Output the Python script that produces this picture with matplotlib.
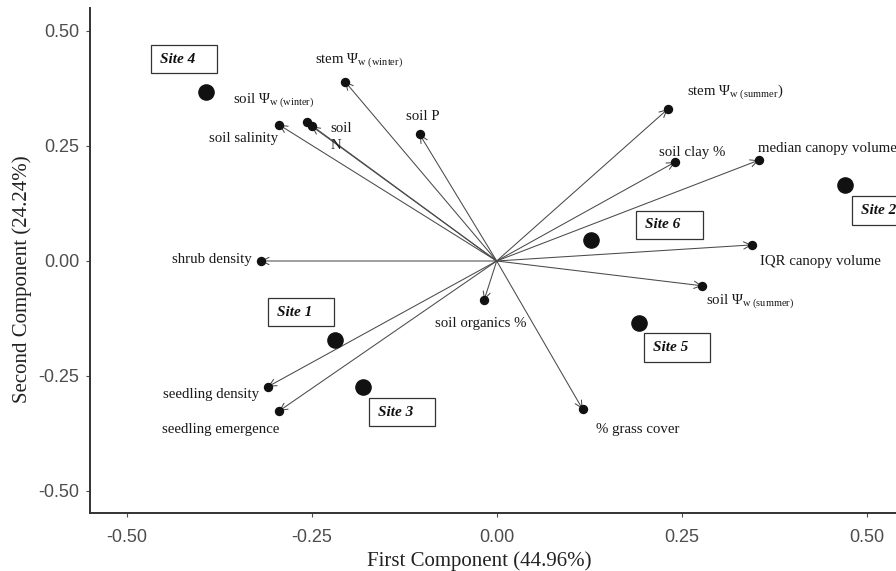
import numpy as np
import matplotlib
matplotlib.use("Agg")
import matplotlib.pyplot as plt
from matplotlib.patches import Rectangle

plt.rcParams['font.family'] = ['Liberation Serif', 'DejaVu Serif']
plt.rcParams['mathtext.fontset'] = 'custom'
plt.rcParams['mathtext.rm'] = 'Liberation Serif'
plt.rcParams['mathtext.it'] = 'Liberation Serif:italic'
plt.rcParams['mathtext.bf'] = 'Liberation Serif:bold'

# variable loadings (arrow tips)
var_labels = ['stem $\\Psi_{\\mathrm{w\\ (winter)}}$', 'soil $\\Psi_{\\mathrm{w\\ (winter)}}$',
              'soil salinity', 'soil\nN', 'soil P', 'shrub density',
              'stem $\\Psi_{\\mathrm{w\\ (summer}}$)', 'soil clay %', 'median canopy volume',
              'IQR canopy volume', 'soil $\\Psi_{\\mathrm{w\\ (summer)}}$', 'soil organics %',
              '% grass cover', 'seedling density', 'seedling emergence']
var_x = [-0.205, -0.257, -0.294, -0.250, -0.104, -0.319, 0.231, 0.241, 0.354,
         0.345, 0.278, -0.017, 0.116, -0.309, -0.294]
var_y = [0.390, 0.303, 0.296, 0.293, 0.275, 0.000, 0.330, 0.215, 0.219,
         0.035, -0.054, -0.085, -0.322, -0.273, -0.326]
# where each variable name is written
lab_x = [-0.2455, -0.356, -0.295, -0.225, -0.1226, -0.331, 0.257, 0.2197, 0.3535,
         0.356, 0.2824, -0.0219, 0.134, -0.3208, -0.3736]
lab_y = [0.432, 0.344, 0.259, 0.2435, 0.3065, -0.005, 0.362, 0.228, 0.2376,
         -0.0087, -0.0935, -0.143, -0.373, -0.2985, -0.375]
lab_ha = ['left', 'left', 'right', 'left', 'left', 'right', 'left', 'left', 'left',
          'left', 'left', 'center', 'left', 'right', 'center']

# site scores
site_names = ['Site 1', 'Site 2', 'Site 3', 'Site 4', 'Site 5', 'Site 6']
site_x = [-0.218, 0.471, -0.181, -0.393, 0.192, 0.128]
site_y = [-0.172, 0.165, -0.273, 0.368, -0.135, 0.046]
site_lab_x = [-0.2645, 0.525, -0.128, -0.4226, 0.2437, 0.2333]
site_lab_y = [-0.111, 0.1098, -0.329, 0.439, -0.188, 0.0787]

ticks = [-0.50, -0.25, 0.00, 0.25, 0.50]
tick_labels = ['-0.50', '-0.25', '0.00', '0.25', '0.50']

fig = plt.figure(figsize=(8.96, 5.71), dpi=100)
ax = fig.add_axes([90/896, 58.3/571, 806/896, 504.7/571])

# arrows from origin to each variable
for x, y in zip(var_x, var_y):
    ax.annotate('', xy=(x, y), xytext=(0, 0),
                arrowprops=dict(arrowstyle='->', color='#4a4a4a', lw=0.75,
                                shrinkA=0, shrinkB=0, mutation_scale=13))
ax.scatter(var_x, var_y, s=33, color='#111111', zorder=3)
for t, x, y, ha in zip(var_labels, lab_x, lab_y, lab_ha):
    ax.text(x, y, t, ha=ha, va='baseline', fontsize=10.7, color='#1a1a1a',
            linespacing=1.35, zorder=4)

ax.scatter(site_x, site_y, s=120, color='#111111', zorder=3)
bw, bh = 0.09, 0.061  # box size in data units
for name, cx, cy in zip(site_names, site_lab_x, site_lab_y):
    ax.add_patch(Rectangle((cx - bw/2, cy - bh/2), bw, bh, facecolor='white',
                           edgecolor='#333333', lw=0.9, clip_on=False, zorder=4))
    ax.text(cx - bw/2 + 0.0126, cy, name, ha='left', va='center', fontsize=11,
            fontweight='bold', fontstyle='italic', color='#111111', zorder=5)

ax.set_xlim(-0.5496, 0.5396)
ax.set_ylim(-0.5472, 0.55)
ax.set_xticks(ticks)
ax.set_xticklabels(tick_labels)
ax.set_yticks(ticks)
ax.set_yticklabels(tick_labels)
for lab in ax.get_xticklabels() + ax.get_yticklabels():
    lab.set_fontfamily('Liberation Sans')
ax.tick_params(axis='both', labelsize=13, colors='#4d4d4d', length=3, width=0.8)
ax.tick_params(axis='x', pad=9)
ax.tick_params(axis='y', pad=4.5)

for s in ['top', 'right']:
    ax.spines[s].set_visible(False)
for s in ['left', 'bottom']:
    ax.spines[s].set_color('#333333')
    ax.spines[s].set_linewidth(1.4)

ax.set_xlabel('First Component (44.96%)', fontsize=15, color='#222222')
ax.xaxis.label.set_va('baseline')
ax.xaxis.set_label_coords(0.4826, -0.1056)
ax.set_ylabel('Second Component (24.24%)', fontsize=15, color='#222222')
ax.yaxis.label.set_va('center')
ax.yaxis.set_label_coords(-0.0844, 0.463)

fig.savefig('out.png', dpi=100)
